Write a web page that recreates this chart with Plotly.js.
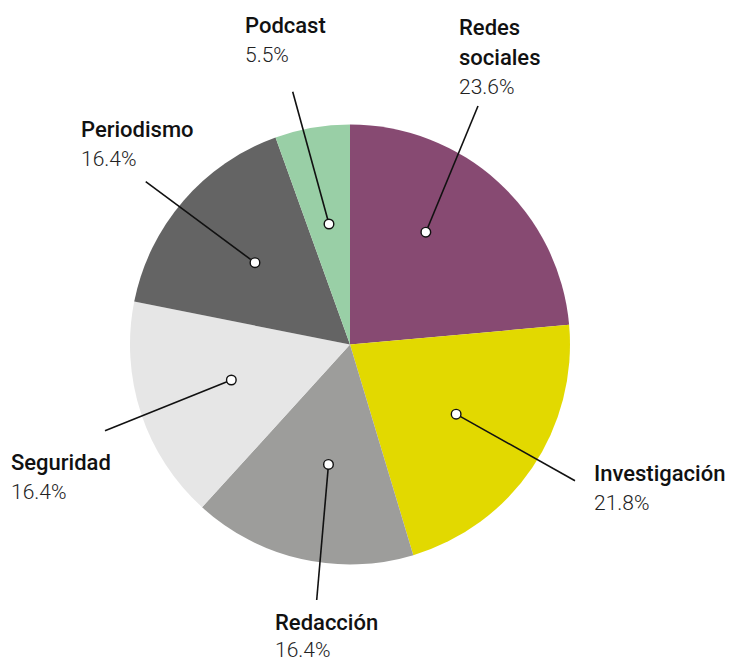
<!DOCTYPE html>
<html>
<head>
<meta charset="utf-8">
<script src="https://cdn.plot.ly/plotly-3.0.1.min.js"></script>
<style>
  html, body { margin: 0; padding: 0; background: #ffffff; }
  #chart { width: 750px; height: 668px; }
</style>
</head>
<body>
<div id="chart"></div>
<script>
// ---- data ----
const categories = ["Redes sociales", "Investigación", "Redacción", "Seguridad", "Periodismo", "Podcast"];
const labelLines = [["Redes", "sociales"], ["Investigación"], ["Redacción"], ["Seguridad"], ["Periodismo"], ["Podcast"]];
const shares = [23.6, 21.8, 16.4, 16.4, 16.4, 5.5];
const pctLabels = ["23.6%", "21.8%", "16.4%", "16.4%", "16.4%", "5.5%"];

// ---- styling / layout config ----
const colors = ["#874a72", "#e2d900", "#9d9d9b", "#e6e6e6", "#646464", "#99cfa6"];
const W = 750, H = 668;
const CX = 350, CY = 344.5, R = 220;
// dot placement inside slices (angle shift in degrees from the mid-angle, radius fraction)
const dotPlace = [[-8.4, 0.616], [-0.8, 0.577], [-2.6, 0.554], [1.6, 0.563], [0, 0.57], [0, 0.556]];
// outer end of leader lines and label text boxes (pixels)
const leaderEnds = [[478, 106], [575, 480.7], [316.7, 600], [105, 430.7], [145.7, 181.7], [292.7, 91.7]];
const labelPos = [[457, 13], [592, 459], [273, 608], [9, 448], [79, 115], [243, 11]];
const lineGap = [30, 30, 28, 30, 30, 30];

const FONT = "Roboto, 'Noto Sans', sans-serif";
const LINE = 30;

const px = x => x / W;
const py = y => 1 - y / H;

const trace = {
  type: "pie",
  labels: categories,
  values: shares,
  sort: false,
  direction: "clockwise",
  rotation: 0,
  textinfo: "none",
  hoverinfo: "label+percent",
  marker: { colors: colors, line: { width: 0 } },
  domain: { x: [(CX - R) / W, (CX + R) / W], y: [py(CY + R), py(CY - R)] },
  showlegend: false
};

const total = shares.reduce((a, b) => a + b, 0);
const shapes = [];
const annotations = [];
let cum = 0;
shares.forEach((v, i) => {
  const mid = (cum + v / 2) / total * 360;
  cum += v;
  const ang = (mid + dotPlace[i][0]) * Math.PI / 180;
  const rr = R * dotPlace[i][1];
  const dx = CX + rr * Math.sin(ang);
  const dy = CY - rr * Math.cos(ang);
  const [ex, ey] = leaderEnds[i];
  shapes.push({
    type: "line", xref: "paper", yref: "paper",
    x0: px(dx), y0: py(dy), x1: px(ex), y1: py(ey),
    line: { color: "#111111", width: 1.6 }
  });
  const cr = 4.8;
  shapes.push({
    type: "circle", xref: "paper", yref: "paper",
    x0: px(dx - cr), x1: px(dx + cr), y0: py(dy + cr), y1: py(dy - cr),
    fillcolor: "#ffffff", line: { color: "#111111", width: 1.4 }
  });
  const [lx, ly] = labelPos[i];
  const gap = lineGap[i];
  labelLines[i].forEach((t, k) => {
    annotations.push({
      xref: "paper", yref: "paper", x: px(lx), y: py(ly + k * gap),
      xanchor: "left", yanchor: "top", showarrow: false, align: "left",
      text: t, font: { family: FONT, size: 22, color: "#111111", weight: 500 }
    });
  });
  annotations.push({
    xref: "paper", yref: "paper", x: px(lx), y: py(ly + labelLines[i].length * gap),
    xanchor: "left", yanchor: "top", showarrow: false, align: "left",
    text: pctLabels[i], font: { family: FONT, size: 21, color: "#222222", weight: 300 }
  });
});

const layout = {
  width: W, height: H,
  margin: { l: 0, r: 0, t: 0, b: 0 },
  paper_bgcolor: "#ffffff",
  plot_bgcolor: "#ffffff",
  showlegend: false,
  shapes: shapes,
  annotations: annotations
};

Plotly.newPlot("chart", [trace], layout, { displayModeBar: false, staticPlot: true });
</script>
</body>
</html>
